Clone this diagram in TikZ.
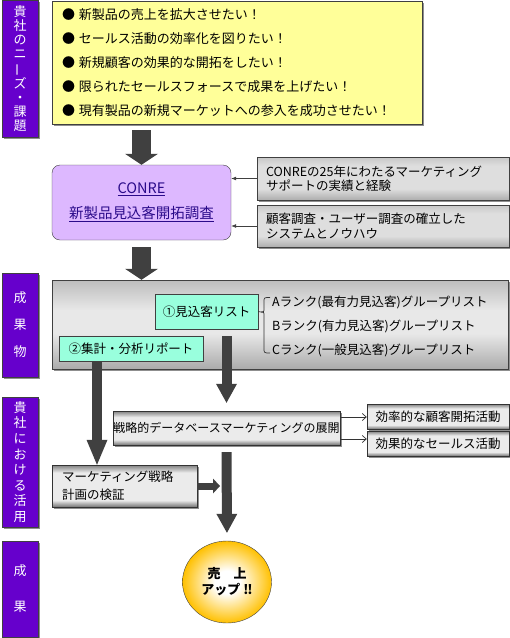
\documentclass[tikz,border=0pt]{standalone}
\usepackage{fontspec}
\usepackage{graphicx}
\usepackage{xcolor}
\newfontfamily\jpfont{Noto Sans CJK JP}
\usetikzlibrary{arrows.meta,shapes.geometric,shadows}

\definecolor{barpurple}{HTML}{6600CC}
\definecolor{needsyellow}{HTML}{FFFF99}
\definecolor{conrelilac}{HTML}{DDB8FF}
\definecolor{conreink}{HTML}{2A0A8A}
\definecolor{listcyan}{HTML}{99FFDD}
\definecolor{salesgold}{HTML}{FFC000}
\definecolor{blockgray}{HTML}{404040}
\pgfdeclareradialshading{salesglow}{\pgfpoint{0bp}{0bp}}{color(0bp)=(white); color(7bp)=(white); color(25bp)=(salesgold); color(50bp)=(salesgold)}
\pgfdeclareverticalshading{boxsheen}{100bp}{color(0bp)=(black!55); color(25bp)=(black!55); color(33bp)=(black!8);
  color(66bp)=(black!8); color(75bp)=(black!50); color(100bp)=(black!50)}
\pgfdeclareverticalshading{resultsheen}{100bp}{color(0bp)=(black!33); color(25bp)=(black!33); color(45bp)=(black!9);
  color(58bp)=(black!9); color(75bp)=(black!26); color(100bp)=(black!26)}
\pgfdeclareverticalshading{lightsheen}{100bp}{color(0bp)=(black!32); color(25bp)=(black!32); color(38bp)=(black!13);
  color(65bp)=(black!13); color(75bp)=(black!22); color(100bp)=(black!22)}

\tikzset{
  mydrop/.style={drop shadow={shadow xshift=1.5pt, shadow yshift=-1.5pt, fill=black!55, opacity=.8}},
  sidebar/.style={draw=black!75, fill=barpurple, text=white, minimum width=36pt, inner sep=0pt, align=center, mydrop},
  needsbox/.style={draw=black!75, fill=needsyellow, align=left, mydrop},
  conrebox/.style={draw=black!75, fill=conrelilac, rounded corners=8pt, text=conreink, align=center, inner sep=0pt},
  lightbox/.style={draw=black!75, shading=lightsheen, align=left, mydrop},
  resultbox/.style={draw=black!75, shading=resultsheen, inner sep=0pt, mydrop},
  listbox/.style={draw=black!75, fill=listcyan, inner sep=0pt},
  graybox/.style={draw=black!80, shading=boxsheen, inner sep=0pt, mydrop},
  salesoval/.style={ellipse, draw=black!75, shading=salesglow, inner sep=0pt, align=center},
  bigarrow/.style={draw=blockgray, line width=19pt, -{Triangle[width=33pt,length=11pt,line width=0pt]}},
  downarrow/.style={draw=blockgray, line width=10pt, -{Triangle[width=21pt,length=#1,line width=0pt]}},
  downarrow/.default=19pt,
  smallarrow/.style={draw=blockgray, line width=7pt, -{Triangle[width=15pt,length=7pt,line width=0pt]}},
  thinarrow/.style={draw=black!75, line width=.7pt, -{Latex[length=5pt,width=4pt]}},
  openarrow/.style={draw=black!80, line width=.7pt, -{Straight Barb[length=4pt,width=7pt]}}
}

\begin{document}
\begin{tikzpicture}[x=1pt, y=-1pt, every node/.style={font=\jpfont\fontsize{12.5}{14.5}\selectfont}]
\useasboundingbox (0,0) rectangle (510,638);

\node[sidebar, minimum height=137pt, font=\jpfont\fontsize{13}{14}\selectfont] (bar1) at (20,68.5)
  {貴\\社\\の\\ニ\\\rotatebox[origin=c]{90}{ー}\\ズ\\・\\課\\題};
\node[sidebar, minimum height=104pt, font=\jpfont\fontsize{13}{27}\selectfont] (bar2) at (20,325) {成\\果\\物};
\node[sidebar, minimum height=130pt, font=\jpfont\fontsize{13}{15.6}\selectfont] (bar3) at (20,462)
  {貴\\社\\に\\お\\け\\る\\活\\用};
\node[sidebar, minimum height=96pt, font=\jpfont\fontsize{13}{36}\selectfont] (bar4) at (20,589) {成\\果};

\node[needsbox, minimum width=370pt, minimum height=123pt, text width=350pt, inner xsep=10pt,
  font=\jpfont\fontsize{13}{24}\selectfont] (needs) at (237,62.5)
  {●\hspace{4pt}新製品の売上を拡大させたい！\\
   ●\hspace{4pt}セールス活動の効率化を図りたい！\\
   ●\hspace{4pt}新規顧客の効果的な開拓をしたい！\\
   ●\hspace{4pt}限られたセールスフォースで成果を上げたい！\\
   ●\hspace{4pt}現有製品の新規マーケットへの参入を成功させたい！};

\node[conrebox, minimum width=179pt, minimum height=75pt, font=\jpfont\fontsize{14.5}{25}\selectfont] (conre) at (141.5,202.5)
  {\underline{CONRE}\\\underline{新製品見込客開拓調査}};
\draw[bigarrow] ([yshift=-6pt]needs.south -| conre.north) -- (conre.north);

\node[lightbox, minimum width=252pt, minimum height=43pt, text width=234pt, inner xsep=9pt] (exp) at (383,178.5)
  {CONREの25年にわたるマーケティング\\サポートの実績と経験};
\node[lightbox, minimum width=252pt, minimum height=42pt, text width=234pt, inner xsep=9pt] (know) at (383,226)
  {顧客調査・ユーザー調査の確立した\\システムとノウハウ};
\draw[thinarrow] (exp.west) -- (exp.west -| conre.east);
\draw[thinarrow] (know.west) -- (know.west -| conre.east);

\node[resultbox, minimum width=456pt, minimum height=89pt] (result) at (280,324.5) {};
\draw[bigarrow, shorten <=7pt] (conre.south) -- (conre.south |- result.north);

\node[listbox, minimum width=103pt, minimum height=35pt] (list1) at (206.5,311.5) {①見込客リスト};
\node[listbox, minimum width=144pt, minimum height=25pt] (list2) at (131,348.5) {②集計・分析リポート};

\node[anchor=west, inner sep=0pt] (rankA) at (272,302) {Aランク(最有力見込客)グループリスト};
\node[anchor=west, inner sep=0pt] (rankB) at (272,326) {Bランク(有力見込客)グループリスト};
\node[anchor=west, inner sep=0pt] (rankC) at (272,350) {Cランク(一般見込客)グループリスト};
\draw[black!80, line width=.7pt] (list1.east) -- (261,312) .. controls (264,312) .. (264,316) -- (264,348)
  .. controls (264,353) .. (270,353);
\draw[black!80, line width=.7pt] (261,312) .. controls (264,312) .. (264,308) -- (264,302)
  .. controls (264,297.5) .. (270,297.5);

\node[graybox, minimum width=227pt, minimum height=34pt, font=\jpfont\fontsize{12}{14.5}\selectfont] (senryaku) at (226.5,428)
  {戦略的データベースマーケティングの展開};
\node[graybox, minimum width=142pt, minimum height=25pt] (kouritsu) at (438,416.5) {効率的な顧客開拓活動};
\node[graybox, minimum width=142pt, minimum height=25pt] (kouka) at (438,443.5) {効果的なセールス活動};
\draw[openarrow] ([yshift=11pt]senryaku.east) -- ([yshift=11pt]senryaku.east -| kouritsu.west);
\draw[openarrow] ([yshift=-11pt]senryaku.east) -- ([yshift=-11pt]senryaku.east -| kouka.west);
\draw[downarrow, shorten <=7pt, shorten >=8pt] (senryaku.north |- list1.south) -- (senryaku.north);

\node[graybox, minimum width=145pt, minimum height=42pt, text width=125pt, inner xsep=10pt, align=left,
  font=\jpfont\fontsize{12.5}{18}\selectfont] (keiei) at (124.5,486) {マーケティング戦略\\計画の検証};
\draw[downarrow=25pt] ([xshift=-34pt]list2.south) -- ([xshift=-34pt]list2.south |- keiei.north);

\node[salesoval, minimum width=89pt, minimum height=82pt, font=\jpfont\bfseries\fontsize{13}{16}\selectfont] (sales) at (227,582)
  {売　上\\アップ ‼};
\draw[downarrow, shorten <=7pt, shorten >=8pt] (senryaku.south) -- (sales.north);
\draw[smallarrow, shorten >=7pt] (keiei.east) -- (keiei.east -| sales.north);
\end{tikzpicture}
\end{document}
